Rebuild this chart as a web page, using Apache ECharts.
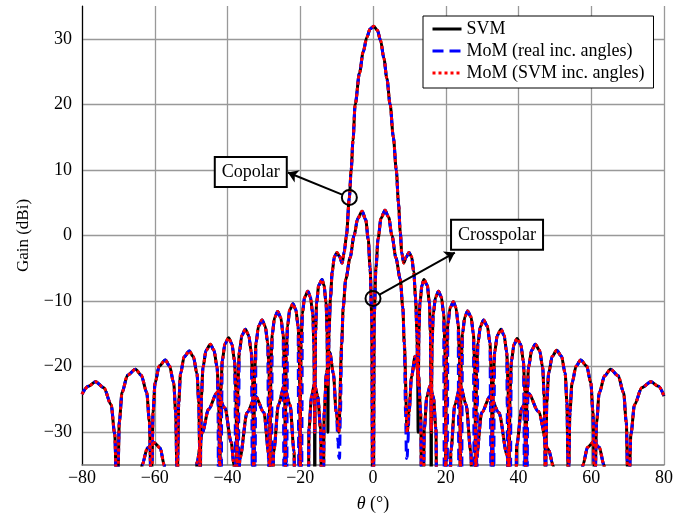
<!DOCTYPE html>
<html>
<head>
<meta charset="utf-8">
<script src="https://cdn.jsdelivr.net/npm/echarts@6/dist/echarts.min.js"></script>
<style>
  html, body { margin: 0; padding: 0; background: #fff; }
  #chart { width: 699px; height: 518px; }
</style>
</head>
<body>
<div id="chart"></div>
<script>
// ---- axes ----
const thetaTicks = [-80, -60, -40, -20, 0, 20, 40, 60, 80];
const gainTicks = [-30, -20, -10, 0, 10, 20, 30];
const gainRange = [-35, 35];

// ---- copolar gain (dBi) vs theta (deg), common to the three models ----
// nulls drop well below the axis floor (-60)
const copolar = [
  [-80, -24.2], [-78.3, -23.0], [-76.3, -22.3], [-74.0, -23.2], [-72.0, -25.8], [-71.0, -30.3], [-70.5, -38.3], [-70.3, -60],
  [-70.11, -36.4], [-69.74, -28.4], [-68.98, -23.9], [-67.48, -21.3], [-65.3, -20.4], [-63.72, -21.3], [-62.22, -23.9], [-61.46, -28.4], [-61.09, -36.4], [-60.9, -60],
  [-60.76, -35], [-60.47, -27], [-59.91, -22.5], [-58.77, -19.9], [-57.1, -19.0], [-55.93, -19.9], [-54.79, -22.5], [-54.23, -27], [-53.94, -35], [-53.8, -60],
  [-53.67, -33.6], [-53.42, -25.6], [-52.92, -21.1], [-51.91, -18.5], [-50.5, -17.6], [-49.39, -18.5], [-48.38, -21.1], [-47.88, -25.6], [-47.63, -33.6], [-47.5, -60],
  [-47.39, -32.6], [-47.18, -24.6], [-46.74, -20.1], [-45.88, -17.5], [-44.7, -16.6], [-43.72, -17.5], [-42.86, -20.1], [-42.42, -24.6], [-42.21, -32.6], [-42.1, -60],
  [-42.01, -31.6], [-41.82, -23.6], [-41.44, -19.1], [-40.69, -16.5], [-39.7, -15.6], [-38.81, -16.5], [-38.06, -19.1], [-37.68, -23.6], [-37.49, -31.6], [-37.4, -60],
  [-37.31, -30.3], [-37.12, -22.3], [-36.76, -17.8], [-36.02, -15.2], [-35.1, -14.3], [-34.18, -15.2], [-33.44, -17.8], [-33.08, -22.3], [-32.89, -30.3], [-32.8, -60],
  [-32.71, -28.9], [-32.53, -20.9], [-32.17, -16.4], [-31.45, -13.8], [-30.5, -12.9], [-29.65, -13.8], [-28.93, -16.4], [-28.57, -20.9], [-28.39, -28.9], [-28.3, -60],
  [-28.22, -27.6], [-28.05, -19.6], [-27.71, -15.1], [-27.04, -12.5], [-26.2, -11.6], [-25.36, -12.5], [-24.69, -15.1], [-24.35, -19.6], [-24.18, -27.6], [-24.1, -60],
  [-24.02, -26.4], [-23.85, -18.4], [-23.53, -13.9], [-22.87, -11.3], [-22.0, -10.4], [-21.23, -11.3], [-20.57, -13.9], [-20.25, -18.4], [-20.08, -26.4], [-20.0, -60],
  [-19.92, -24.5], [-19.76, -16.5], [-19.44, -12.0], [-18.8, -9.4], [-17.9, -8.5], [-17.2, -9.4], [-16.56, -12.0], [-16.24, -16.5], [-16.08, -24.5], [-16.0, -60],
  [-15.93, -22.7], [-15.78, -14.7], [-15.5, -10.2], [-14.92, -7.6], [-14.0, -6.7], [-13.48, -7.6], [-12.9, -10.2], [-12.62, -14.7], [-12.47, -22.7], [-12.4, -60],
  [-12.28, -21], [-12.1, -15], [-11.7, -9.5], [-11.2, -5.5], [-10.6, -3.2], [-9.9, -2.6], [-9.2, -3.2], [-8.5, -4.2],
  [-7.9, -2.5], [-7.3, 0], [-6.5, 5.8], [-6.0, 10], [-5.5, 14.5], [-4.9, 20], [-3.7, 24.8], [-2.7, 28],
  [-1.7, 30.2], [-0.8, 31.5], [0.2, 31.9], [1.2, 31.3], [2.1, 29.7], [3.0, 27], [3.8, 24], [4.7, 20],
  [5.6, 15], [6.4, 10], [7.0, 5], [7.5, 0.5], [7.9, -2.6], [8.45, -4.2], [9.1, -3.3], [9.9, -2.6],
  [10.6, -3.2], [11.2, -5.5], [11.7, -9.5], [12.1, -15], [12.28, -21], [12.4, -60],
  [12.47, -22.7], [12.62, -14.7], [12.9, -10.2], [13.48, -7.6], [14.0, -6.7], [14.92, -7.6], [15.5, -10.2], [15.78, -14.7], [15.93, -22.7], [16.0, -60],
  [16.08, -24.5], [16.24, -16.5], [16.56, -12.0], [17.2, -9.4], [18.0, -8.5], [18.8, -9.4], [19.44, -12.0], [19.76, -16.5], [19.92, -24.5], [20.0, -60],
  [20.08, -26.1], [20.24, -18.1], [20.56, -13.6], [21.2, -11.0], [22.1, -10.1], [22.8, -11.0], [23.44, -13.6], [23.76, -18.1], [23.92, -26.1], [24.0, -60],
  [24.08, -27.5], [24.25, -19.5], [24.59, -15.0], [25.26, -12.4], [26.0, -11.5], [26.94, -12.4], [27.61, -15.0], [27.95, -19.5], [28.12, -27.5], [28.2, -60],
  [28.29, -28.9], [28.48, -20.9], [28.84, -16.4], [29.58, -13.8], [30.4, -12.9], [31.42, -13.8], [32.16, -16.4], [32.52, -20.9], [32.71, -28.9], [32.8, -60],
  [32.89, -30.3], [33.08, -22.3], [33.44, -17.8], [34.18, -15.2], [35.2, -14.3], [36.02, -15.2], [36.76, -17.8], [37.12, -22.3], [37.31, -30.3], [37.4, -60],
  [37.49, -31.7], [37.68, -23.7], [38.04, -19.2], [38.78, -16.6], [39.6, -15.7], [40.62, -16.6], [41.36, -19.2], [41.72, -23.7], [41.91, -31.7], [42.0, -60],
  [42.11, -32.6], [42.32, -24.6], [42.76, -20.1], [43.62, -17.5], [44.6, -16.6], [45.78, -17.5], [46.64, -20.1], [47.08, -24.6], [47.29, -32.6], [47.4, -60],
  [47.53, -33.5], [47.78, -25.5], [48.28, -21.0], [49.29, -18.4], [50.5, -17.5], [51.81, -18.4], [52.82, -21.0], [53.32, -25.5], [53.57, -33.5], [53.7, -60],
  [53.84, -35], [54.13, -27], [54.71, -22.5], [55.86, -19.9], [57.1, -19.0], [58.74, -19.9], [59.89, -22.5], [60.47, -27], [60.76, -35], [60.9, -60],
  [61.09, -36.5], [61.46, -28.5], [62.2, -24.0], [63.69, -21.4], [65.3, -20.4], [67.41, -21.4], [68.9, -24.0], [69.64, -28.5], [70.01, -36.5], [70.2, -60],
  [70.4, -38.3], [70.9, -30.3], [71.9, -25.8], [73.9, -23.2], [76.4, -22.3], [78.5, -23.0], [80, -24.5]
];

// model-specific null depths next to the main beam
const copolarSVMNulls = [[-12.4, -30], [12.4, -30]];
const copolarMoMNulls = [[-16.0, -30], [-12.4, -23], [12.4, -23], [16.0, -30]];
// MoM with real incidence angles: shallow split nulls in the mid sidelobe region
const copolarMoMRealNullCentres = [-42.1, -37.4, -32.8, -28.3, -24.1, -20.0, 20.0, 24.0, 28.2, 32.8, 37.4, 42.0];
const copolarMoMRealNulls = [
  [-42.6, -26], [-42.52, -36], [-42.1, -29], [-41.68, -36], [-41.6, -26],
  [-37.9, -26], [-37.82, -36], [-37.4, -29], [-36.98, -36], [-36.9, -26],
  [-33.3, -26], [-33.22, -36], [-32.8, -29], [-32.38, -36], [-32.3, -26],
  [-28.8, -26], [-28.72, -36], [-28.3, -29], [-27.88, -36], [-27.8, -26],
  [-24.6, -26], [-24.52, -36], [-24.1, -29], [-23.68, -36], [-23.6, -26],
  [-20.5, -26], [-20.42, -36], [-20.0, -29], [-19.58, -36], [-19.5, -26],
  [19.5, -26], [19.58, -36], [20.0, -29], [20.42, -36], [20.5, -26],
  [23.5, -26], [23.58, -36], [24.0, -29], [24.42, -36], [24.5, -26],
  [27.7, -26], [27.78, -36], [28.2, -29], [28.62, -36], [28.7, -26],
  [32.3, -26], [32.38, -36], [32.8, -29], [33.22, -36], [33.3, -26],
  [36.9, -26], [36.98, -36], [37.4, -29], [37.82, -36], [37.9, -26],
  [41.5, -26], [41.58, -36], [42.0, -29], [42.42, -36], [42.5, -26]
];

// ---- crosspolar gain (dBi) vs theta (deg) ----
const crosspolar = [
  [-80, -60],
  [-64.4, -60], [-63.5, -35], [-62.0, -32.4], [-60.2, -31.6], [-58.5, -32.4], [-57.4, -35], [-56.6, -60],
  [-49.0, -60], [-48.4, -34.6], [-46.9, -30], [-45.2, -26.5], [-42.9, -24.0], [-40.7, -26.3], [-39.0, -31.5], [-38.2, -35], [-37.5, -60],
  [-36.6, -34], [-34.6, -27], [-32.3, -24.5], [-30.0, -27], [-28.6, -33.5], [-28.0, -60],
  [-27.3, -33], [-26.0, -25.8], [-24.4, -22.9], [-22.8, -25.8], [-21.7, -33], [-21.3, -60],
  [-17.9, -60], [-17.6, -29.5], [-16.9, -24.5], [-16.1, -22.7], [-15.2, -24.5], [-14.4, -29.5], [-13.9, -60],
  [-13.4, -27], [-12.8, -21], [-11.9, -17.8], [-10.9, -21], [-10.1, -27], [-9.4, -30],
  [-8.6, -16.5], [-8.2, -11], [-7.5, -6.7], [-6.3, -3.4], [-5.2, 0], [-4.2, 2.6], [-3.0, 3.7],
  [-2.0, 2.4], [-1.3, -0.6], [-0.8, -5], [-0.35, -12], [0, -60],
  [0.35, -12], [0.8, -5], [1.4, -0.5], [2.2, 2.6], [3.3, 3.85], [4.3, 2.8], [5.2, 0],
  [6.3, -3.4], [7.5, -6.7], [8.2, -11], [8.6, -16.5],
  [9.4, -30], [9.9, -27], [10.6, -21.5], [11.6, -18.4], [12.5, -21.2], [13.1, -27], [13.6, -60],
  [14.1, -29.5], [14.8, -24.6], [15.7, -22.9], [16.6, -24.6], [17.3, -29.5], [17.7, -60],
  [21.0, -60], [21.4, -33], [22.5, -25.8], [24.0, -22.9], [25.6, -25.8], [26.9, -33], [27.7, -60],
  [28.4, -34], [29.9, -27], [32.2, -24.5], [34.6, -27], [36.9, -33.5], [38.0, -60],
  [39.0, -60], [39.5, -32], [40.9, -26.3], [42.8, -24.1], [45.4, -26.8], [48.2, -32.6], [49.6, -35.2], [50.2, -60],
  [56.8, -60], [57.7, -35], [59.0, -32.3], [60.6, -31.5], [62.2, -32.3], [63.5, -35], [64.4, -60],
  [80, -60]
];
const crosspolarMoMRealNulls = [
  [-9.6, -31.5], [-9.4, -33.8], [-9.2, -34], [-8.95, -27],
  [8.95, -27], [9.2, -34], [9.4, -33.8], [9.6, -31.5]
];

// ---- annotations: [text, marked point, label centre, arrow start, arrow tip] ----
const annotations = [
  ['Copolar', [-6.5, 5.8], [-33.6, 9.7], [-8.3, 6.2], [-23.4, 9.6]],
  ['Crosspolar', [0, -9.6], [34.1, 0.1], [1.8, -9.0], [22.5, -2.6]]
];

const seriesNames = ['SVM', 'MoM (real inc. angles)', 'MoM (SVM inc. angles)'];

// merge point layers by theta: later layers override earlier ones;
// base points lying within halfWidth of a listed centre are dropped first
function assemble(base, layers, centres, halfWidth) {
  const m = new Map();
  base.forEach(([t, g]) => {
    if (!(centres || []).some(c => Math.abs(t - c) < halfWidth)) m.set(t, g);
  });
  layers.forEach(layer => layer.forEach(([t, g]) => m.set(t, g)));
  return [...m.entries()].sort((a, b) => a[0] - b[0]);
}

const curves = {
  SVM: {
    co: assemble(copolar, [copolarSVMNulls]),
    x: assemble(crosspolar, [])
  },
  MoMReal: {
    co: assemble(copolar, [copolarMoMNulls, copolarMoMRealNulls], copolarMoMRealNullCentres, 0.45),
    x: assemble(crosspolar, [crosspolarMoMRealNulls])
  },
  MoMSVM: {
    co: assemble(copolar, [copolarMoMNulls]),
    x: assemble(crosspolar, [])
  }
};

const FONT = "'Liberation Serif', 'DejaVu Serif', serif";
const fmt = v => String(v).replace('-', '\u2212');

const styles = [
  { key: 'SVM', name: seriesNames[0], line: { color: '#000000', width: 3, type: 'solid' } },
  { key: 'MoMReal', name: seriesNames[1], line: { color: '#0000ff', width: 3, type: [11, 6] } },
  { key: 'MoMSVM', name: seriesNames[2], line: { color: '#ff0000', width: 3, type: [3, 3] } }
];

const seriesList = [];
styles.forEach(s => {
  ['co', 'x'].forEach(part => {
    seriesList.push({
      type: 'line',
      name: s.name,
      data: curves[s.key][part],
      showSymbol: false,
      symbol: 'none',
      smooth: 0.3,
      smoothMonotone: 'x',
      clip: true,
      lineStyle: s.line,
      itemStyle: { color: s.line.color },
      emphasis: { disabled: true },
      animation: false
    });
  });
});

// annotation marks sit on the topmost series
const labelStyle = {
  show: true, position: 'inside', color: '#000', fontFamily: FONT, fontSize: 18,
  backgroundColor: '#fff', borderColor: '#000', borderWidth: 2,
  padding: [5, 6, 3, 6], lineHeight: 20
};
const lastSeries = seriesList[seriesList.length - 1];
lastSeries.markPoint = {
  silent: true,
  animation: false,
  label: { show: false },
  data: annotations.flatMap(([text, pt, at]) => [
    { coord: pt, symbol: 'circle', symbolSize: 15,
      itemStyle: { color: 'rgba(0,0,0,0)', borderColor: '#000', borderWidth: 2 } },
    { coord: at, symbol: 'rect', symbolSize: 1,
      itemStyle: { color: 'rgba(0,0,0,0)' },
      label: Object.assign({ formatter: text }, labelStyle) }
  ])
};
lastSeries.markLine = {
  silent: true,
  animation: false,
  symbol: ['none', 'arrow'],
  symbolSize: 10,
  label: { show: false },
  lineStyle: { color: '#000', width: 2, type: 'solid' },
  data: annotations.map(a => [{ coord: a[3] }, { coord: a[4] }])
};

const chart = echarts.init(document.getElementById('chart'), null, { renderer: 'canvas' });
chart.setOption({
  animation: false,
  backgroundColor: '#fff',
  grid: { left: 82, right: 35, top: 6, bottom: 52, containLabel: false },
  legend: {
    data: seriesNames,
    orient: 'vertical',
    left: 423,
    top: 16,
    padding: [4, 9, 6, 8],
    itemGap: 4,
    itemWidth: 29,
    itemHeight: 14,
    backgroundColor: '#fff',
    borderColor: '#000',
    borderWidth: 1,
    selectedMode: false,
    itemStyle: { color: 'rgba(0,0,0,0)', borderWidth: 0, opacity: 0 },
    lineStyle: { width: 3 },
    textStyle: { fontFamily: FONT, fontSize: 18, color: '#000' }
  },
  xAxis: {
    type: 'value',
    min: thetaTicks[0],
    max: thetaTicks[thetaTicks.length - 1],
    interval: thetaTicks[1] - thetaTicks[0],
    name: '{i|θ} (°)',
    nameLocation: 'middle',
    nameGap: 30,
    nameTextStyle: {
      fontFamily: FONT, fontSize: 18, color: '#000',
      rich: { i: { fontFamily: FONT, fontSize: 18, fontStyle: 'italic', color: '#000' } }
    },
    axisLine: { onZero: false, lineStyle: { color: '#777', width: 1.5 } },
    axisTick: { show: false },
    axisLabel: { color: '#000', fontFamily: FONT, fontSize: 18, margin: 4, formatter: fmt },
    splitLine: { show: true, lineStyle: { color: '#999', width: 1.3 } }
  },
  yAxis: {
    type: 'value',
    min: gainRange[0],
    max: gainRange[1],
    splitNumber: 7,
    name: 'Gain (dBi)',
    nameLocation: 'middle',
    nameGap: 50,
    nameTextStyle: { fontFamily: FONT, fontSize: 17, color: '#000' },
    axisLine: { onZero: false, lineStyle: { color: '#000', width: 1.2 } },
    axisTick: { show: false },
    axisLabel: {
      color: '#000', fontFamily: FONT, fontSize: 18, margin: 10,
      showMinLabel: false, showMaxLabel: false,
      formatter: v => gainTicks.includes(v) ? fmt(v) : ''
    },
    splitLine: { show: true, showMinLine: false, showMaxLine: false, lineStyle: { color: '#999', width: 1.3 } }
  },
  series: seriesList
});
</script>
</body>
</html>
